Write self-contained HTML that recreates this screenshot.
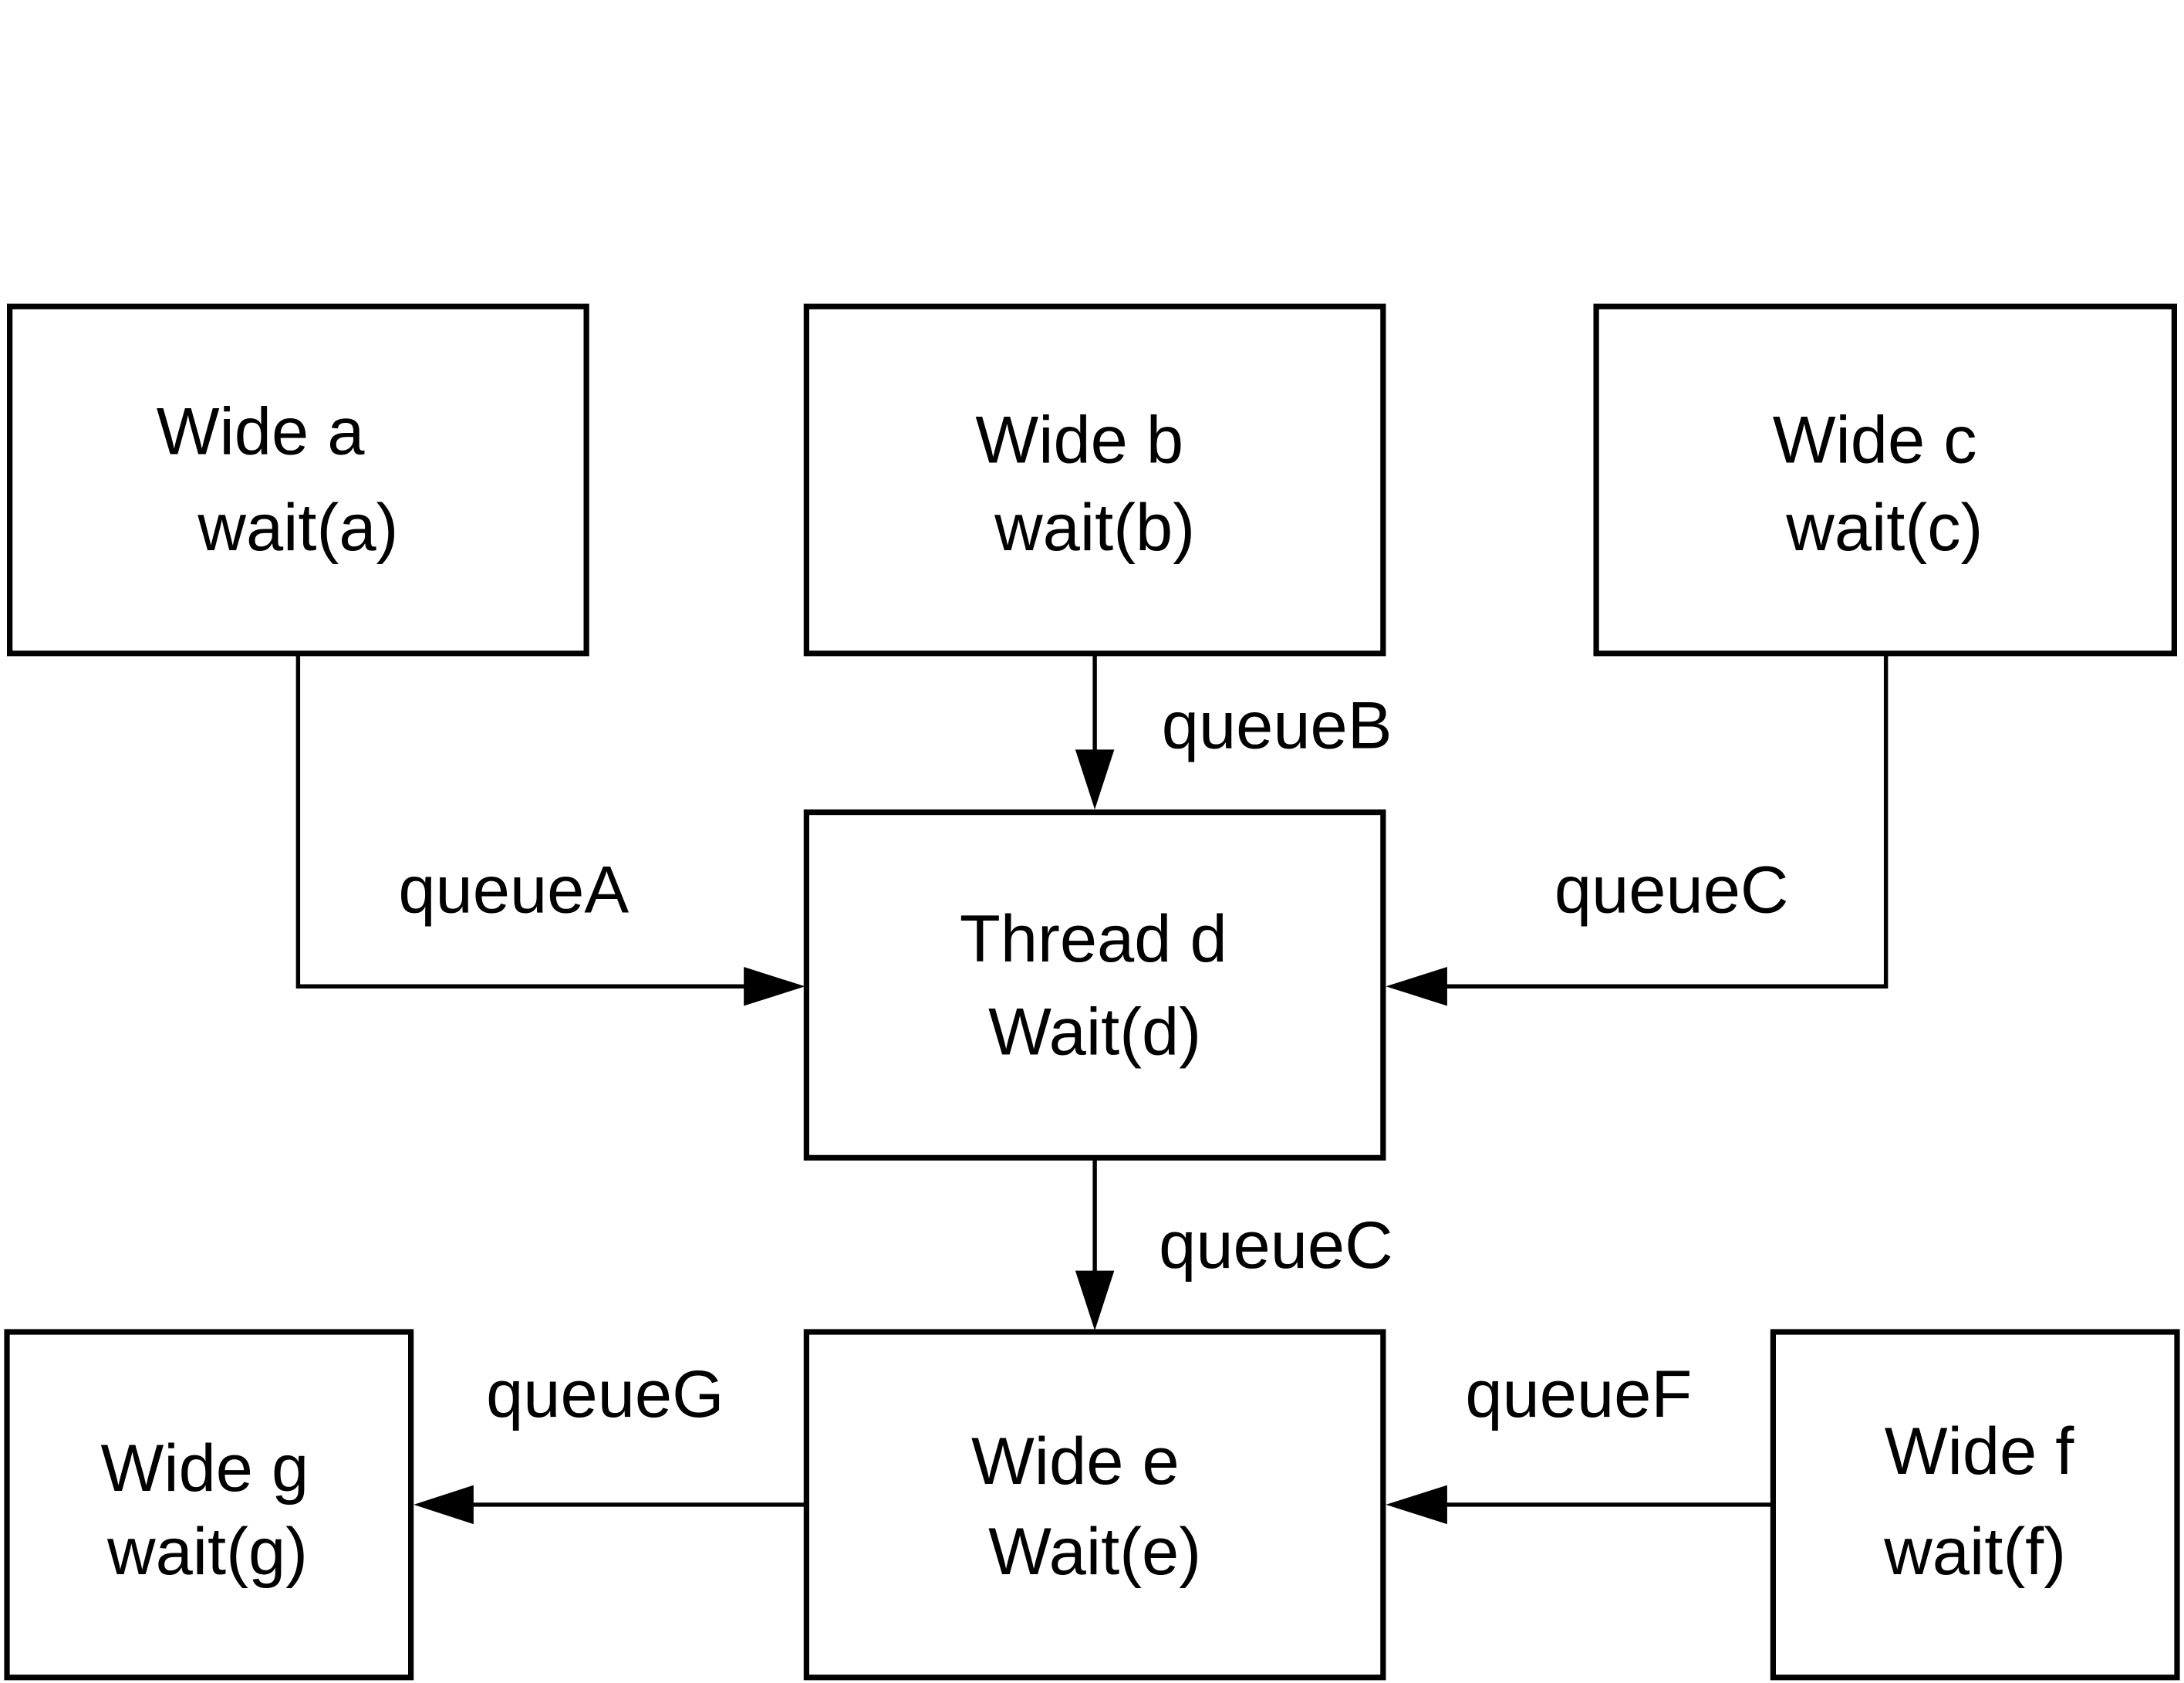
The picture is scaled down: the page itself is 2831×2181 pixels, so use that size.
<!DOCTYPE html>
<html><head><meta charset="utf-8"><style>
html,body{margin:0;padding:0;background:#fff;}
svg{display:block;}
text{font-family:"Liberation Sans",sans-serif;font-size:48px;fill:#000;}
</style></head><body>
<svg width="2831" height="2181" viewBox="0 0 1568 1208" preserveAspectRatio="none" xmlns="http://www.w3.org/2000/svg">
<g fill="none" stroke="#000" stroke-width="4">
<rect x="7" y="220" width="414" height="249"/>
<rect x="579" y="220" width="414" height="249"/>
<rect x="1146" y="220" width="415" height="249"/>
<rect x="579" y="583" width="414" height="248"/>
<rect x="579" y="956" width="414" height="248"/>
<rect x="5" y="956" width="290" height="248"/>
<rect x="1273" y="956" width="290" height="248"/>
</g>
<g fill="none" stroke="#000" stroke-width="3">
<polyline points="214,469 214,708 536,708"/>
<line x1="786" y1="469" x2="786" y2="540"/>
<polyline points="1354,469 1354,708 1036,708"/>
<line x1="786" y1="831" x2="786" y2="913"/>
<line x1="578" y1="1080" x2="338" y2="1080"/>
<line x1="1273" y1="1080" x2="1036" y2="1080"/>
</g>
<g fill="#000">
<polygon points="578,708 534,694 534,722"/>
<polygon points="786,581 772,538 800,538"/>
<polygon points="995,708 1039,694 1039,722"/>
<polygon points="786,955 772,912 800,912"/>
<polygon points="297,1080 340,1066 340,1094"/>
<polygon points="995,1080 1039,1066 1039,1094"/>
</g>
<g text-anchor="middle">
<text x="187" y="326">Wide a</text>
<text x="214" y="395">wait(a)</text>
<text x="775" y="332">Wide b</text>
<text x="786" y="395">wait(b)</text>
<text x="1346" y="332">Wide c</text>
<text x="1353" y="395">wait(c)</text>
<text x="785" y="690">Thread d</text>
<text x="786" y="757">Wait(d)</text>
<text x="772" y="1065">Wide e</text>
<text x="786" y="1130">Wait(e)</text>
<text x="147" y="1070">Wide g</text>
<text x="149" y="1130">wait(g)</text>
<text x="1421" y="1058">Wide f</text>
<text x="1418" y="1130">wait(f)</text>
</g>
<text x="834" y="537">queueB</text>
<text x="286" y="655">queueA</text>
<text x="1116" y="655">queueC</text>
<text x="832" y="910">queueC</text>
<text x="349" y="1017">queueG</text>
<text x="1052" y="1017">queueF</text>
</svg>
</body></html>
